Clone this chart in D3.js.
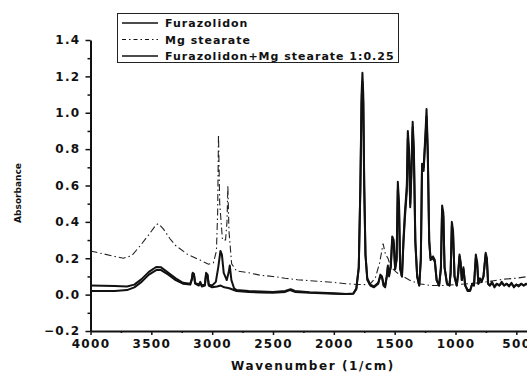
<!DOCTYPE html>
<html>
<head>
<meta charset="utf-8">
<script src="https://cdn.jsdelivr.net/npm/d3@7"></script>
<style>
  html, body { margin: 0; padding: 0; background: #fff; }
  svg { display: block; }
  text { font-family: "DejaVu Sans", Arial, sans-serif; font-weight: bold; fill: #111; }
</style>
</head>
<body>
<div id="chart"></div>
<script>
// values: [wavenumber, absorbance]
const seriesNames = ['Furazolidon', 'Mg stearate', 'Furazolidon+Mg stearate 1:0.25'];

const furazolidon = [
  [4000,0.02],[3800,0.02],[3700,0.025],[3640,0.04],[3580,0.07],[3520,0.11],[3460,0.135],[3420,0.135],
  [3360,0.11],[3300,0.08],[3240,0.06],[3180,0.055],[3168,0.08],[3160,0.115],[3150,0.11],[3140,0.06],
  [3110,0.05],[3098,0.065],[3085,0.045],[3060,0.05],[3050,0.11],[3038,0.105],[3028,0.05],[3000,0.04],
  [2960,0.045],[2930,0.05],[2900,0.04],[2860,0.035],[2800,0.02],[2700,0.015],[2600,0.012],[2500,0.01],
  [2400,0.015],[2360,0.025],[2320,0.015],[2200,0.01],[2100,0.008],[2000,0.005],[1900,0.003],[1840,0.005],
  [1815,0.03],[1795,0.15],[1782,0.6],[1772,1.1],[1765,1.22],[1758,1.1],[1750,0.6],[1740,0.22],
  [1725,0.08],[1700,0.05],[1670,0.04],[1635,0.06],[1618,0.11],[1605,0.1],[1592,0.05],[1578,0.04],
  [1565,0.1],[1556,0.16],[1546,0.1],[1532,0.16],[1520,0.32],[1508,0.3],[1496,0.14],[1484,0.2],
  [1474,0.62],[1464,0.5],[1455,0.14],[1440,0.1],[1428,0.3],[1416,0.45],[1400,0.6],[1392,0.9],
  [1382,0.8],[1372,0.5],[1362,0.7],[1352,0.95],[1342,0.8],[1330,0.3],[1315,0.1],[1298,0.05],
  [1285,0.2],[1275,0.72],[1262,0.7],[1246,0.9],[1238,1.02],[1228,0.8],[1216,0.3],[1205,0.2],
  [1185,0.21],[1170,0.19],[1155,0.08],[1135,0.05],[1120,0.15],[1110,0.49],[1100,0.45],[1090,0.15],
  [1070,0.06],[1050,0.05],[1040,0.12],[1030,0.4],[1020,0.35],[1008,0.1],[990,0.05],[978,0.12],
  [967,0.22],[958,0.18],[948,0.08],[935,0.15],[920,0.05],[900,0.02],[880,0.02],[862,0.06],
  [848,0.05],[833,0.22],[822,0.18],[812,0.06],[800,0.09],[785,0.07],[770,0.1],[752,0.23],
  [742,0.2],[732,0.06],[718,0.05],[700,0.07],[680,0.04],[660,0.06],[640,0.05],[620,0.07],
  [600,0.05],[580,0.06],[560,0.045],[540,0.065],[520,0.04],[500,0.055],[480,0.045],[460,0.06],
  [440,0.05],[420,0.06],[400,0.055]
];

const mgStearate = [
  [4000,0.24],[3900,0.225],[3800,0.21],[3730,0.2],[3660,0.215],[3590,0.27],[3520,0.33],[3460,0.385],
  [3440,0.39],[3400,0.36],[3350,0.31],[3300,0.27],[3200,0.22],[3100,0.19],[3030,0.167],[2990,0.175],
  [2965,0.24],[2955,0.45],[2948,0.88],[2938,0.5],[2915,0.3],[2890,0.3],[2878,0.4],[2871,0.6],
  [2862,0.35],[2840,0.17],[2800,0.13],[2700,0.12],[2600,0.106],[2500,0.1],[2400,0.09],[2300,0.082],
  [2200,0.077],[2100,0.072],[2000,0.067],[1900,0.06],[1800,0.056],[1750,0.055],[1700,0.06],
  [1660,0.09],[1625,0.17],[1595,0.28],[1575,0.22],[1555,0.2],[1530,0.15],[1480,0.12],[1430,0.1],
  [1380,0.08],[1300,0.06],[1200,0.05],[1100,0.05],[1000,0.055],[900,0.06],[800,0.065],[700,0.075],
  [600,0.085],[500,0.09],[400,0.1]
];

const mixture = [
  [4000,0.05],[3800,0.048],[3700,0.045],[3640,0.055],[3580,0.085],[3520,0.125],[3460,0.152],[3420,0.15],
  [3360,0.12],[3300,0.09],[3240,0.065],[3180,0.06],[3168,0.085],[3160,0.12],[3150,0.115],[3140,0.065],
  [3110,0.055],[3098,0.07],[3085,0.05],[3060,0.055],[3050,0.12],[3038,0.11],[3028,0.055],[3000,0.05],
  [2970,0.07],[2950,0.15],[2932,0.24],[2920,0.22],[2905,0.12],[2880,0.08],[2865,0.12],[2855,0.16],
  [2842,0.08],[2820,0.035],[2800,0.025],[2700,0.02],[2600,0.017],[2500,0.015],[2400,0.02],[2355,0.03],
  [2320,0.02],[2200,0.013],[2100,0.01],[2000,0.007],[1900,0.004],[1840,0.006],[1815,0.035],[1795,0.15],
  [1782,0.58],[1772,1.05],[1765,1.17],[1758,1.05],[1750,0.58],[1740,0.22],[1725,0.09],[1700,0.055],
  [1670,0.045],[1635,0.065],[1618,0.1],[1605,0.1],[1592,0.06],[1578,0.05],[1565,0.1],[1556,0.15],
  [1546,0.11],[1532,0.15],[1520,0.3],[1508,0.28],[1496,0.14],[1484,0.19],[1474,0.58],[1464,0.47],
  [1455,0.15],[1440,0.1],[1428,0.28],[1416,0.42],[1400,0.57],[1392,0.86],[1382,0.76],[1372,0.48],
  [1362,0.67],[1352,0.92],[1342,0.76],[1330,0.28],[1315,0.1],[1298,0.05],[1285,0.19],[1275,0.7],
  [1262,0.68],[1246,0.87],[1238,0.98],[1228,0.77],[1216,0.29],[1205,0.19],[1185,0.2],[1170,0.18],
  [1155,0.08],[1135,0.05],[1120,0.14],[1110,0.47],[1100,0.43],[1090,0.15],[1070,0.06],[1050,0.05],
  [1040,0.12],[1030,0.38],[1020,0.33],[1008,0.1],[990,0.05],[978,0.11],[967,0.21],[958,0.17],
  [948,0.08],[935,0.14],[920,0.05],[900,0.025],[880,0.025],[862,0.06],[848,0.05],[833,0.2],
  [822,0.17],[812,0.06],[800,0.085],[785,0.075],[770,0.1],[752,0.22],[742,0.19],[732,0.06],
  [718,0.05],[700,0.065],[680,0.045],[660,0.06],[640,0.05],[620,0.065],[600,0.05],[580,0.06],
  [560,0.05],[540,0.06],[520,0.045],[500,0.055],[480,0.05],[460,0.06],[440,0.05],[420,0.058],
  [400,0.055]
];

const xTicks = [4000, 3500, 3000, 2500, 2000, 1500, 1000, 500];
const xMinor = [3750, 3250, 2750, 2250, 1750, 1250, 750];
const yTicks = [-0.2, 0.0, 0.2, 0.4, 0.6, 0.8, 1.0, 1.2, 1.4];
const yMinor = [-0.1, 0.1, 0.3, 0.5, 0.7, 0.9, 1.1, 1.3];

const width = 527, height = 381;
const svg = d3.select('#chart').append('svg')
  .attr('width', width).attr('height', height);

const x = d3.scaleLinear().domain([4000, 400]).range([90.5, 528.5]);
const y = d3.scaleLinear().domain([-0.2, 1.4]).range([331, 40]);

// axes
const yAxis = svg.append('g')
  .attr('transform', 'translate(90.5,0)')
  .call(d3.axisLeft(y).tickValues(yTicks).tickSize(5).tickSizeOuter(0)
    .tickFormat(d3.format('.1f')));
svg.append('g')
  .attr('transform', 'translate(90.5,0)')
  .call(d3.axisLeft(y).tickValues(yMinor).tickSize(3).tickFormat(''))
  .select('.domain').remove();

const xAxis = svg.append('g')
  .attr('transform', 'translate(0,331)')
  .call(d3.axisBottom(x).tickValues(xTicks).tickSize(4).tickSizeOuter(0)
    .tickFormat(d3.format('d')));
svg.append('g')
  .attr('transform', 'translate(0,331)')
  .call(d3.axisBottom(x).tickValues(xMinor).tickSize(2).tickFormat(''))
  .select('.domain').remove();

svg.selectAll('.domain').attr('stroke', '#111').attr('stroke-width', 2);
svg.selectAll('.tick line').attr('stroke', '#111').attr('stroke-width', 1.5);
svg.selectAll('.tick text')
  .attr('font-family', '"DejaVu Sans", Arial, sans-serif')
  .attr('font-weight', 'bold')
  .attr('font-size', 12)
  .style('letter-spacing', '1.3px')
  .attr('fill', '#111');
yAxis.selectAll('.tick text').attr('x', -10);
xAxis.selectAll('.tick text').attr('y', 8);

// axis titles
svg.append('text')
  .attr('x', 313).attr('y', 370)
  .attr('text-anchor', 'middle')
  .attr('font-size', 12)
  .style('letter-spacing', '1.6px')
  .text('Wavenumber (1/cm)');

svg.append('text')
  .attr('transform', 'translate(21,193) rotate(-90)')
  .attr('text-anchor', 'middle')
  .attr('font-size', 9)
  .text('Absorbance');

// spectra
const line = d3.line()
  .x(d => x(d[0]))
  .y(d => y(d[1]));

svg.append('path').datum(mgStearate)
  .attr('d', line).attr('fill', 'none')
  .attr('stroke', '#222').attr('stroke-width', 1.1)
  .attr('stroke-dasharray', '7,3,1.5,3');

svg.append('path').datum(furazolidon)
  .attr('d', line).attr('fill', 'none')
  .attr('stroke', '#111').attr('stroke-width', 2)
  .attr('stroke-linejoin', 'round');

svg.append('path').datum(mixture)
  .attr('d', line).attr('fill', 'none')
  .attr('stroke', '#111').attr('stroke-width', 2)
  .attr('stroke-linejoin', 'round');

// legend
const legend = svg.append('g');
legend.append('rect')
  .attr('x', 117.5).attr('y', 13.5).attr('width', 281).attr('height', 49)
  .attr('fill', '#fff').attr('stroke', '#222').attr('stroke-width', 1);

const legendStyles = [
  { dash: null, w: 1.6 },
  { dash: '4,3,1.5,3', w: 1.1 },
  { dash: null, w: 1.6 }
];
seriesNames.forEach((name, i) => {
  const ly = 23 + i * 16.5;
  legend.append('line')
    .attr('x1', 122).attr('x2', 158).attr('y1', ly).attr('y2', ly)
    .attr('stroke', '#111').attr('stroke-width', legendStyles[i].w)
    .attr('stroke-dasharray', legendStyles[i].dash);
  legend.append('text')
    .attr('x', 165).attr('y', ly + 4)
    .attr('font-size', 11)
    .style('letter-spacing', '1px')
    .text(name);
});
</script>
</body>
</html>
